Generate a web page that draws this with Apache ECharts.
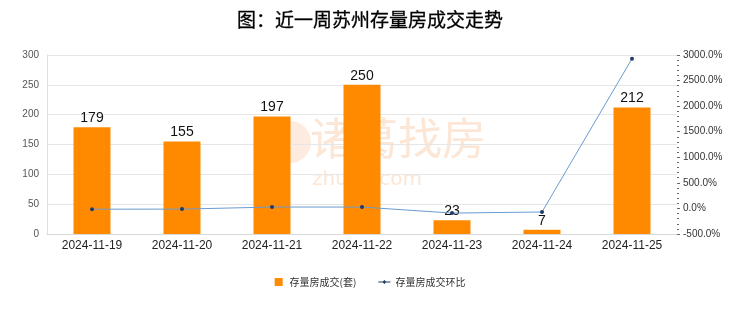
<!DOCTYPE html>
<html><head><meta charset="utf-8">
<script src="https://cdn.jsdelivr.net/npm/echarts@6/dist/echarts.min.js"></script>
<style>html,body{margin:0;padding:0;background:#fff}#c{width:740px;height:312px}</style>
</head><body><div id="c"></div>
<script>
var categories = ['2024-11-19','2024-11-20','2024-11-21','2024-11-22','2024-11-23','2024-11-24','2024-11-25'];
var deals = [179,155,197,250,23,7,212];
var ratio = [-15,-13.4,27.1,26.9,-90.8,-69.6,2928.6];
var leftTicks = {min:0,max:300,interval:50};
var rightTicks = {min:-500,max:3000,interval:500};

var chart = echarts.init(document.getElementById('c'));
chart.setOption({
  backgroundColor:'#fff',
  animation:false,
  title:{text:'图：近一周苏州存量房成交走势',left:'center',top:5,textStyle:{fontSize:19,fontWeight:'normal',color:'#000',fontFamily:'Noto Sans CJK SC',letterSpacing:3,textBorderColor:'#000',textBorderWidth:0.3}},
  graphic:[
    {type:'circle',z:-10,shape:{cx:290,cy:142,r:21},style:{fill:'#fcebde'}},
    {type:'text',z:-10,left:310,top:116,style:{text:'诸葛找房',fontSize:44,fill:'#fce6d5',fontFamily:'Noto Sans CJK SC',letterSpacing:2}},
    {type:'text',z:-10,left:312,top:170,style:{text:'zhuge.com',fontSize:20,fill:'#fce6d5',fontFamily:'DejaVu Sans',letterSpacing:8.5}}
  ],
  legend:{bottom:20,itemWidth:12,itemHeight:8,itemGap:22,textStyle:{fontSize:10,color:'#333',fontFamily:'Noto Sans CJK SC'},
    data:[{name:'存量房成交(套)',icon:'path://M2,0h8v8h-8z'},{name:'存量房成交环比',icon:'path://M0,3.6H4.5L6,2L7.5,3.6H12V4.4H7.5L6,6L4.5,4.4H0Z'}]},
  grid:{left:47,right:63,top:55,bottom:78},
  xAxis:{type:'category',data:categories,axisTick:{show:false},
    axisLine:{lineStyle:{color:'#d9d9d9'}},
    axisLabel:{interval:0,fontSize:12,color:'#222',margin:6,fontFamily:'Liberation Sans'}},
  yAxis:[
    {type:'value',min:leftTicks.min,max:leftTicks.max,interval:leftTicks.interval,
     axisLine:{show:true,lineStyle:{color:'#e0e0e0'}},axisTick:{show:false},
     splitLine:{lineStyle:{color:'#e6e6e6'}},
     axisLabel:{fontSize:10,color:'#555',margin:8}},
    {type:'value',min:rightTicks.min,max:rightTicks.max,interval:rightTicks.interval,
     axisLine:{show:false},axisTick:{show:true,length:3,inside:false,lineStyle:{color:'#666'}},
     minorTick:{show:true,splitNumber:5,length:2,lineStyle:{color:'#666'}},
     splitLine:{show:false},
     axisLabel:{fontSize:10,color:'#333',margin:6,formatter:function(v){return v.toFixed(1)+'%';}}}
  ],
  series:[
    {name:'存量房成交(套)',type:'bar',data:deals,barWidth:37,itemStyle:{color:'#ff8a00'},
     label:{show:true,position:'top',fontSize:14,color:'#111',distance:2}},
    {name:'存量房成交环比',type:'line',yAxisIndex:1,data:ratio,symbol:'circle',symbolSize:4,
     lineStyle:{color:'#6a9bd1',width:1},itemStyle:{color:'#1f3b66'}}
  ]
});
</script></body></html>
